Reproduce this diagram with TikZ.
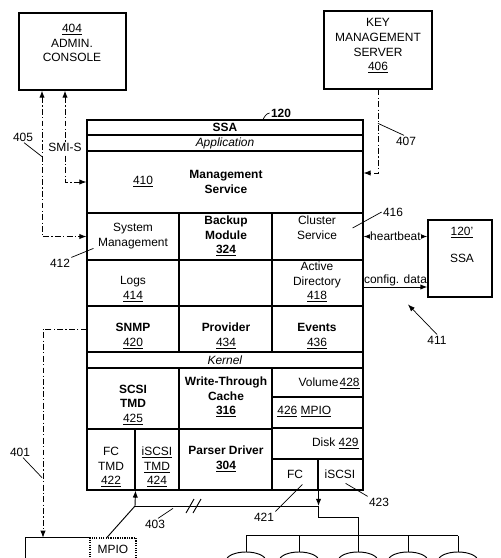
\documentclass[tikz,border=0pt]{standalone}
\usepackage{fontspec}
\setmainfont{Liberation Sans}
\usetikzlibrary{%
        arrows.meta,
        fit,
        shapes.geometric
    }
\tikzset{%
    cell/.style={draw, line width=0.9pt, inner sep=0pt},
    box/.style={draw, line width=1pt, inner sep=0pt, align=center,
        font=\fontsize{10.2}{12.5}\selectfont},
    txt/.style={align=center, inner sep=1pt,
        font=\fontsize{10.2}{12.5}\selectfont},
    boldtxt/.style={txt, font=\fontsize{10.2}{12.5}\selectfont\bfseries},
    dashdotline/.style={line width=0.8pt,
        dash pattern=on 5pt off 2pt on 1pt off 2pt},
    leader/.style={line width=0.6pt},
    bus/.style={line width=0.8pt},
    platter/.style={draw, ellipse, line width=0.8pt, inner sep=0pt,
        minimum width=1.2cm, minimum height=0.54cm}
}

\begin{document}
\begin{tikzpicture}[x=0.03cm, y=-0.03cm, >={Latex[length=6pt, width=4.5pt]}]

    \useasboundingbox (0, 0) rectangle (500, 558);
    \clip (0, 0) rectangle (500, 558);

    % Outside boxes
    \node[box, fit={(19, 13) (126, 90)}] (admin) {};
    \node[txt] (admintext) at (72, 43) {\underline{404}\\ADMIN.\\CONSOLE};
    \node[box, fit={(324, 11) (432, 89)}] (kms)
        {KEY\\MANAGEMENT\\SERVER\\\underline{406}};
    \node[box, fit={(428, 220) (492, 297)}] (peer) {};
    \node[txt] (peernum) at (462, 233) {\underline{120'}};
    \node[txt] (peername) at (462, 258) {SSA};

    % Host with MPIO
    \node[fit={(26, 538) (90, 580)}, inner sep=0pt] (host) {};
    \draw[line width=1pt] (host.south west) -- (host.north west)
        -- (host.north east);
    \node[box, densely dotted, fit={(90, 538) (136, 580)}] (hostmpio) {};
    \node[txt] (hostmpiotext) at (113, 549) {MPIO};

    % Cells of the SSA
    \foreach \cname/\xa/\ya/\xb/\yb in {%
            ssatitle/87/120/363/135, app/87/135/363/151,
            mgmt/87/151/363/213,
            sysmgmt/87/213/179/260, backup/179/213/272/260,
            cluster/272/213/363/260,
            logs/87/260/179/306, ad/272/260/363/306,
            snmp/87/306/179/352, provider/179/306/272/352,
            events/272/306/363/352,
            kernel/87/352/363/368,
            scsitmd/87/368/179/429, fctmd/87/429/135/490,
            iscsitmd/135/429/179/490,
            wtc/179/368/272/429, parser/179/429/272/490,
            volume/272/368/363/397, mpio/272/397/363/428,
            disk/272/428/363/459, fc/272/459/318/490,
            iscsi/318/459/363/490}{%
        \node[cell, fit={(\xa, \ya) (\xb, \yb)}] (\cname) {};
    };

    % Texts of the SSA
    \node[boldtxt] (ssatext) at (225, 127) {SSA};
    \node[txt] (apptext) at (225, 143) {\textit{Application}};
    \node[txt] (mgmtnum) at (143, 182) {\underline{410}};
    \node[boldtxt] (mgmttext) at (226, 182) {Management\\Service};
    \node[txt] (systext) at (133, 236) {System\\Management};
    \node[boldtxt] (backuptext) at (226, 236) {Backup\\Module\\\underline{324}};
    \node[txt] (clustertext) at (317, 228) {Cluster\\Service};
    \node[txt] (logstext) at (133, 289) {Logs\\\underline{414}};
    \node[txt] (adtext) at (317, 282) {Active\\Directory\\\underline{418}};
    \node[txt] (snmptext) at (133, 336) {\textbf{SNMP}\\\underline{420}};
    \node[txt] (providertext) at (226, 336) {\textbf{Provider}\\\underline{434}};
    \node[txt] (eventstext) at (317, 336) {\textbf{Events}\\\underline{436}};
    \node[txt] (kerneltext) at (225, 360) {\textit{Kernel}};
    \node[txt] (scsitmdtext) at (133, 405)
        {\textbf{SCSI}\\\textbf{TMD}\\\underline{425}};
    \node[txt] (fctmdtext) at (111, 467) {FC\\TMD\\\underline{422}};
    \node[txt] (iscsitmdtext) at (157, 467)
        {\underline{iSCSI}\\\underline{TMD}\\\underline{424}};
    \node[boldtxt] (wtctext) at (226, 397) {Write-Through\\Cache\\\underline{316}};
    \node[boldtxt] (parsertext) at (226, 459) {Parser Driver\\\underline{304}};
    \node[txt, anchor=east] (volumetext) at (361, 383)
        {Volume\kern1pt\underline{428}};
    \node[txt, anchor=west] (mpiotext) at (276, 412)
        {\underline{426}~\underline{MPIO}};
    \node[txt, anchor=east] (disktext) at (360, 443) {Disk~\underline{429}};
    \node[txt] (fctext) at (295, 474) {FC};
    \node[txt] (iscsitext) at (340, 474) {iSCSI};

    % Management links
    \draw[dashdotline, <->] ([xshift=-0.915cm] admin.south) |- (sysmgmt.west);
    \draw[dashdotline, <->] ([xshift=-0.225cm] admin.south) |- (mgmt.west)
        node[txt, pos=0.31, fill=white] (smis) {SMI-S};
    \draw[dashdotline, ->] (kms.south) |- ([yshift=0.27cm] mgmt.east);
    \draw[dashdotline, ->] (snmp.west) -| ([xshift=-0.45cm] host.north);

    % Links to the peer SSA
    \draw[<->, line width=0.8pt] (cluster.east) -- (cluster.east -| peer.west)
        node[txt, midway, fill=white, inner sep=0pt] (hb) {heartbeat};
    \draw[->, line width=0.8pt] ([yshift=-0.12cm] ad.east)
        -- ([yshift=-0.12cm] ad.east -| peer.west)
        node[txt, midway, above, inner sep=0.5pt] (cfg) {config. data};

    % Storage links
    \coordinate (split) at (135, 506);
    \draw[bus, ->] ([xshift=-0.18cm] hostmpio.north) -- (split)
        -- (fctmd.south east);
    \draw[bus] (split) -- (fc.south east |- split);
    \foreach \dx in {1.65, 1.86}{%
        \draw[bus] ([xshift=\dx cm] split) ++(-4, 7) -- ++(8, -14);
    };
    \draw[bus, ->] (fc.south east) -- (fc.south east |- split);
    \foreach \i/\x in {1/246, 2/299, 3/358, 4/408, 5/458}{%
        \node[platter] (platter\i) at (\x, 561) {};
        \draw[bus] (platter\i.north) -- ++(0, -16);
    };
    \draw[bus] (fc.south east |- split) -- ++(0, 11) -| (platter3.north);
    \draw[bus] ([yshift=0.48cm] platter1.north)
        -- ([yshift=0.48cm] platter5.north);

    % Reference numerals
    \node[boldtxt] (l120) at (281, 113) {120};
    \draw[leader] (l120.west) to[out=190, in=60]
        ([xshift=1.14cm] ssatitle.north);
    \node[txt] (l405) at (23, 137) {405};
    \draw[leader] ([xshift=0.03cm] l405.south) -- ++(18, 14);
    \node[txt] (l407) at (406, 141) {407};
    \draw[leader] ([xshift=-0.06cm] l407.north) -- ++(-26, -12);
    \node[txt] (l412) at (60, 263) {412};
    \draw[leader] (l412.north east) -- ++(22, -9);
    \node[txt] (l416) at (393, 212) {416};
    \draw[leader] (l416.west) -- ++(-29, 16);
    \node[txt] (l411) at (437, 340) {411};
    \draw[leader, ->] (l411.north) -- ++(-29, -30);
    \node[txt] (l401) at (20, 452) {401};
    \draw[leader] ([xshift=0.09cm] l401.south) -- ++(19, 20);
    \node[txt] (l403) at (155, 524) {403};
    \draw[leader] ([xshift=0.09cm] l403.north) -- ++(15, -10);
    \node[txt] (l421) at (264, 517) {421};
    \draw[leader] (l421.north east) -- ++(27, -27);
    \node[txt] (l423) at (379, 502) {423};
    \draw[leader] (l423.north west) -- ++(-22, -13);

\end{tikzpicture}
\end{document}
